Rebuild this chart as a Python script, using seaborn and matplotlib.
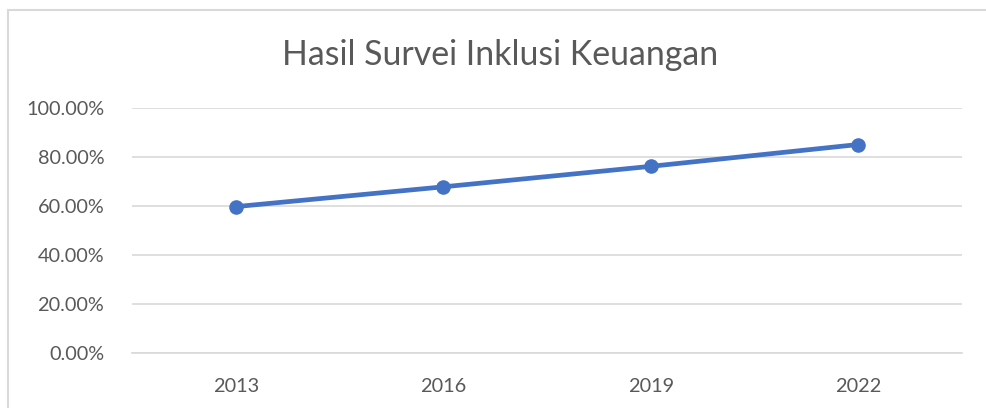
import matplotlib
matplotlib.use('Agg')
import matplotlib.pyplot as plt
import seaborn as sns
import pandas as pd
from matplotlib.lines import Line2D
from matplotlib.ticker import PercentFormatter

years = ['2013', '2016', '2019', '2022']
inklusi = [0.5974, 0.6782, 0.7619, 0.8510]
y_ticks = [0.0, 0.2, 0.4, 0.6, 0.8, 1.0]

df = pd.DataFrame({'Tahun': years, 'Inklusi': inklusi})

sns.set_theme(style='white')
plt.rcParams['font.family'] = ['Lato', 'DejaVu Sans']

fig = plt.figure(figsize=(9.87, 4.08), dpi=100)
ax = fig.add_axes([132 / 987, 1 - 353 / 408, 830 / 987, 245 / 408])

# chart border: only left and top edges are visible in the reference
bx, by = 8 / 987, 1 - 10 / 408
fig.add_artist(Line2D([bx, bx], [-0.05, by], transform=fig.transFigure,
                      color='#d9d9d9', linewidth=1.5))
fig.add_artist(Line2D([bx, 1.05], [by, by], transform=fig.transFigure,
                      color='#d9d9d9', linewidth=1.5))

sns.lineplot(data=df, x='Tahun', y='Inklusi', ax=ax, color='#4472C4',
             linewidth=3.4, marker='o', markersize=10.5, markeredgewidth=0)

ax.set_xlim(-0.5, 3.5)
ax.set_ylim(0, 1)
ax.set_yticks(y_ticks)
ax.yaxis.set_major_formatter(PercentFormatter(1.0, decimals=2))
ax.grid(axis='y', color='#d9d9d9', linewidth=1.2)
ax.set_axisbelow(True)
for s in ['top', 'right', 'left']:
    ax.spines[s].set_visible(False)
ax.spines['bottom'].set_color('#d9d9d9')
ax.spines['bottom'].set_linewidth(1.2)
ax.tick_params(axis='both', length=0, labelsize=14.3, colors='#595959')
ax.tick_params(axis='y', pad=20)
ax.tick_params(axis='x', pad=18)
ax.set_xlabel('')
ax.set_ylabel('')

fig.text(500 / 987, 1 - 55 / 408, 'Hasil Survei Inklusi Keuangan',
         ha='center', va='center', fontsize=24.4, color='#595959')

fig.savefig('out.png', dpi=100, facecolor='white')
